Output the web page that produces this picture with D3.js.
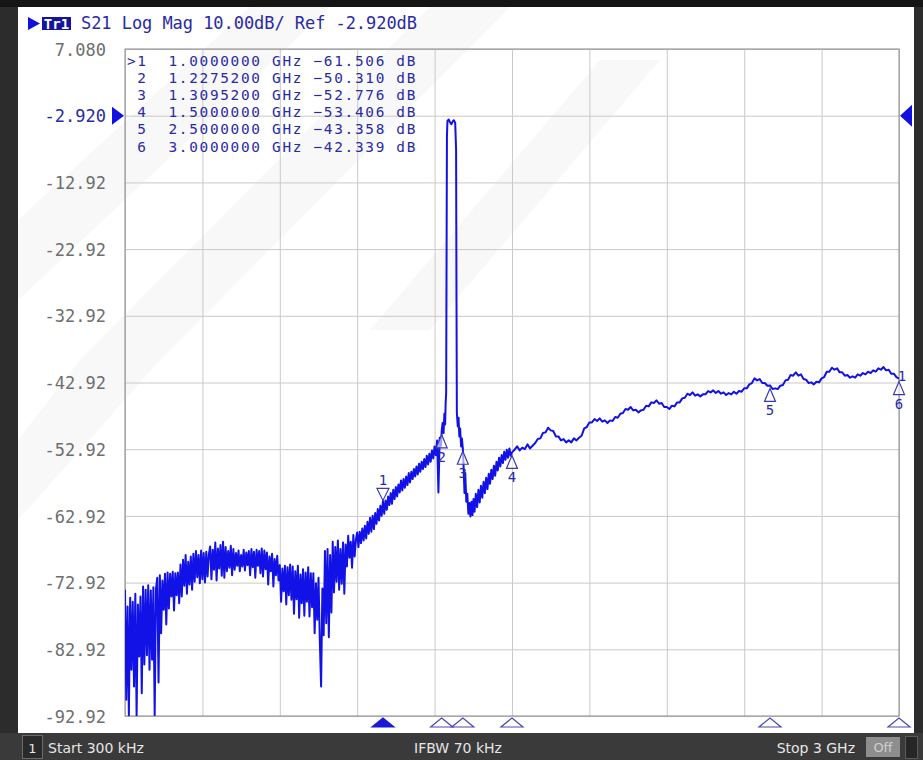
<!DOCTYPE html>
<html><head><meta charset="utf-8">
<script src="https://cdn.jsdelivr.net/npm/d3@7"></script>
<style>body{margin:0;background:#2f2f2f;} svg{display:block}</style>
</head><body>
<svg id="c" width="923" height="760"></svg>
<script>
// ---------- DATA ----------
const startGHz = 0.0003, stopGHz = 3.0;
const refLevelDB = -2.920;
const yTickLabels = ["7.080","-2.920","-12.92","-22.92","-32.92","-42.92","-52.92","-62.92","-72.92","-82.92","-92.92"];
const headerText = "S21 Log Mag 10.00dB/ Ref -2.920dB";
const statusStart = "Start 300 kHz", statusIFBW = "IFBW 70 kHz", statusStop = "Stop 3 GHz";

// noise floor segment: sweep points every 0.005 GHz from startGHz
const noiseStepGHz = 0.005;
const noiseFloorDB = [
-74.0,-90.5,-76.5,-92.9,-75.2,-86.0,
-75.8,-88.5,-74.6,-92.9,-76.2,-84.0,-75.0,-89.5,
-73.5,-85.2,-74.0,-83.8,-73.3,-86.0,-74.1,-84.5,-73.6,-92.8,-73.9,
-72.2,-87.9,-71.8,-80.5,-72.6,-77.0,-71.6,-79.2,
-71.4,-76.8,-71.6,-75.0,-71.3,-77.1,-71.5,-74.8,-71.4,-76.0,
-70.2,-75.0,-69.5,-73.4,-68.8,-74.6,-69.8,-73.2,-69.0,-74.0,
-68.6,-72.8,-68.2,-72.1,-68.8,-73.0,-68.1,-72.4,-68.5,-72.9,-68.3,-72.0,-68.7,
-67.5,-72.4,-68.0,-71.0,-66.9,-72.6,-67.8,-70.8,-67.3,-71.9,-66.8,-72.2,-67.6,-71.2,-68.2,-70.7,-67.4,-71.8,
-67.9,-71.0,-68.5,-70.4,-68.1,-71.2,-68.8,-70.5,-68.0,-71.1,-68.4,-70.3,-68.2,
-71.8,-67.9,-70.6,-68.3,-72.2,-68.0,-70.4,-68.2,-71.5,-67.8,-72.0,-68.1,-70.9,
-68.4,-73.2,-69.0,-71.2,-68.6,-73.5,-69.4,-71.8,-68.9,-72.6,
-70.3,-75.8,-70.8,-74.2,-70.4,-76.2,-70.6,-74.8,-70.2,-75.5,
-70.5,-77.6,-71.2,-75.4,-70.4,-78.2,-71.7,-76.0,-70.9,-77.9,-71.4,-75.8,-70.6,-78.0,-71.5,-76.6,
-71.5,-80.5,-73.0,-78.5,-72.2,-81.6,-88.5,-73.8,
-80.8,-68.2,-79.0,-67.9,-81.1,-68.8,-77.4,
-66.8,-74.4,-67.6,-72.8,-66.6,-74.0,-67.9,-73.1,-66.9,-74.6,-67.2,
-70.5,-65.9,-69.2,-66.8,-70.7,-65.8,-69.0,-66.5
];

// rising skirt: every 0.005 GHz from 0.900 GHz
const riseStartGHz = 0.900, riseStepGHz = 0.005;
const riseDB = [
-65.4,-67.6,-65.3,-67.0,-64.8,-66.6,-64.4,-66.3,-63.8,-65.6,
-63.2,-65.3,-62.9,-64.9,-62.5,-64.1,-61.9,-63.6,-61.4,-62.9,
-60.7,-62.6,-60.6,-62.0,-60.0,-61.3,-59.5,-61.1,-59.0,-60.4,
-58.6,-60.0,-58.2,-59.4,-57.6,-59.1,-57.4,-58.7,-57.0,-58.3,
-56.5,-57.9,-56.3,-57.4,-55.9,-57.0,-55.5,-56.7,-55.1,-56.3,
-54.8,-55.9,-54.4,-55.6,-53.9,-55.2,-53.6,-54.8,-53.1,-54.3,
-52.5,-53.8,-51.6,-59.4,-51.2,-52.4
];

// passband and notch region (explicit points)
const passbandGHz = [1.2275,1.231,1.235,1.238,1.241,1.243,1.245,1.2465,1.248,1.250,1.255,1.260,1.265,1.270,1.275,1.280,1.2835,1.285,1.2865,1.290,1.293,1.296,1.299,1.303,1.306,1.3095,1.312,1.316,1.319,1.323,1.327,1.331,1.335,1.339,1.343,1.347,1.351,1.355,1.360,1.365,1.370,1.375,1.380,1.385,1.390,1.395,1.400,1.405,1.410,1.415,1.420,1.425,1.430,1.435,1.440,1.445,1.450,1.455,1.460,1.465,1.470,1.475,1.480,1.485,1.490,1.495,1.500];
const passbandDB = [-50.3,-49.0,-50.5,-47.6,-49.2,-46.0,-44.5,-25,-6,-3.7,-3.5,-3.9,-4.2,-3.8,-3.6,-4.0,-8,-30,-47.5,-49.5,-48.2,-51.0,-49.8,-52.5,-51.3,-52.8,-55.0,-59.5,-56.5,-60.8,-59.6,-62.6,-61.0,
-63.0,-60.8,-62.8,-60.4,-62.3,-59.6,-61.6,-59.0,-60.9,-58.4,-60.2,-57.8,-59.5,-57.2,-58.9,-56.6,-58.1,-56.0,-57.4,-55.4,-56.9,-54.8,-56.1,-54.2,-55.5,-53.8,-55.0,-53.3,-54.5,-53.0,-54.2,-52.8,-53.9,-53.4];

// upper band: every 0.01 GHz from 1.51 GHz
const upperStartGHz = 1.51, upperStepGHz = 0.01;
const upperDB = [
-53.0,-52.5,-53.1,-52.7,-52.9,-52.2,-52.8,-52.4,-52.0,-51.4,
-51.3,-50.5,-50.4,-49.7,-50.1,-50.2,-51.0,-51.0,-51.6,-51.4,
-51.9,-51.6,-51.9,-51.3,-51.6,-51.2,-50.9,-49.8,-49.6,-48.9,
-48.9,-48.4,-48.7,-48.3,-48.8,-48.6,-49.0,-48.6,-48.7,-48.1,
-48.2,-47.6,-47.5,-46.9,-47.0,-46.6,-47.1,-47.0,-47.4,-47.1,
-47.0,-46.4,-46.5,-45.9,-46.0,-45.6,-46.1,-46.0,-46.6,-46.6,
-46.9,-46.4,-46.5,-45.9,-45.9,-45.3,-45.2,-44.6,-44.8,-44.4,
-44.9,-44.7,-45.0,-44.7,-44.7,-44.2,-44.4,-44.1,-44.5,-44.2,
-44.6,-44.4,-44.8,-44.5,-44.7,-44.3,-44.6,-44.2,-44.3,-43.8,
-43.8,-43.2,-43.0,-42.3,-42.6,-42.4,-43.0,-43.0,-43.4,-43.36,
-43.9,-43.8,-43.9,-43.4,-43.3,-42.6,-42.5,-41.8,-41.9,-41.4,
-41.9,-41.7,-42.4,-42.5,-43.0,-42.9,-43.2,-42.8,-42.9,-42.3,
-42.1,-41.3,-41.3,-40.7,-41.0,-40.8,-41.4,-41.4,-41.9,-41.8,
-42.2,-42.0,-42.2,-41.7,-41.9,-41.5,-41.7,-41.3,-41.5,-41.1,
-41.3,-40.8,-41.0,-40.6,-41.1,-41.0,-41.6,-41.6,-42.1,-42.34
];

// markers
const markerIds = [1,2,3,4,5,6];
const markerGHz = [1.0, 1.22752, 1.30952, 1.5, 2.5, 3.0];
const markerDB  = [-61.506, -50.310, -52.776, -53.406, -43.358, -42.339];
const activeMarker = 1;

// ---------- LAYOUT ----------
const L = 125, R = 899, T = 49, B = 716;
const svg = d3.select("#c");
const mono = "'DejaVu Sans Mono', monospace";
const sans = "'DejaVu Sans', sans-serif";
const blueText = "#2a2aa6";
const traceBlue = "#1212e6";

// frame/background
svg.append("rect").attr("x",0).attr("y",0).attr("width",923).attr("height",760).attr("fill","#2c2c2c");
svg.append("rect").attr("x",0).attr("y",0).attr("width",923).attr("height",7).attr("fill","#151515");
svg.append("rect").attr("x",18).attr("y",7).attr("width",896).attr("height",726).attr("fill","#ffffff");

// faint watermark
const wm = svg.append("g").attr("fill","#000").attr("opacity",0.022);
[[ [250,7],[330,7],[18,300],[18,220] ],
 [ [430,7],[510,7],[160,360],[80,360] ],
 [ [80,360],[160,360],[18,520],[18,440] ],
 [ [600,60],[660,60],[430,330],[370,330] ]].forEach(p=>wm.append("polygon").attr("points",p.map(d=>d.join(",")).join(" ")));

const x = d3.scaleLinear().domain([startGHz, stopGHz]).range([L, R]);
const y = d3.scaleLinear().domain([-92.92, 7.08]).range([B, T]);

const yTickValues = yTickLabels.map(s => +s);
const xGridValues = d3.range(11).map(k => startGHz + k*(stopGHz-startGHz)/10);

// grids
const gy = svg.append("g").attr("transform",`translate(${L},0)`)
  .call(d3.axisLeft(y).tickValues(yTickValues).tickSize(-(R-L)).tickPadding(19).tickFormat((d,i)=>yTickLabels[i]));
gy.select(".domain").remove();
gy.selectAll("line").attr("stroke","#c9c9c9");
gy.selectAll("text").attr("font-family",mono).attr("font-size",17).attr("fill",(d,i)=> yTickLabels[i]==="-2.920" ? blueText : "#6e6e6e").attr("dy","0.36em");

const gx = svg.append("g").attr("transform",`translate(0,${B})`)
  .call(d3.axisBottom(x).tickValues(xGridValues).tickSize(-(B-T)).tickFormat(""));
gx.select(".domain").remove();
gx.selectAll("line").attr("stroke","#c9c9c9");

svg.append("rect").attr("x",L).attr("y",T).attr("width",R-L).attr("height",B-T).attr("fill","none").attr("stroke","#8a8a8a");

// reference level triangles
const yRef = y(refLevelDB);
svg.append("path").attr("d",`M112,${yRef-9}L124,${yRef}L112,${yRef+9}Z`).attr("fill","#1010e0");
svg.append("path").attr("d",`M912,${yRef-11}L900,${yRef}L912,${yRef+11}Z`).attr("fill","#1010e0");

// header
svg.append("path").attr("d","M28,17L40,23.5L28,30Z").attr("fill","#1010e0");
svg.append("rect").attr("x",42).attr("y",17).attr("width",29).attr("height",13).attr("fill","#14149c");
svg.append("text").attr("x",56.5).attr("y",28.5).attr("text-anchor","middle").attr("font-family",mono).attr("font-size",14).attr("font-weight","bold").attr("fill","#fff").text("Tr1");
svg.append("text").attr("x",81).attr("y",29).attr("font-family",mono).attr("font-size",17).attr("fill",blueText)
  .attr("textLength",336).attr("lengthAdjust","spacing").text(headerText);

// marker table (one text per cell, rows kept clear of each other)
const cw = 10.36, cx0 = 127, row0 = 66, rowH = 17.1;
const fmtF = d3.format(".7f"), fmtV = d3.format(".3f");
const tbl = svg.append("g").attr("font-family",mono).attr("font-size",14.4).attr("letter-spacing","1.7px").attr("fill",blueText);
const cols = [
  {col:0, txt:(m,i)=> (m===activeMarker ? ">" : "\u00a0") + m},
  {col:4, txt:(m,i)=> fmtF(markerGHz[i])},
  {col:14, txt:()=> "GHz"},
  {col:18, txt:(m,i)=> fmtV(markerDB[i])},
  {col:26, txt:()=> "dB"}
];
markerIds.forEach((m,i)=>{
  cols.forEach(c=>{
    tbl.append("text").attr("x",cx0+c.col*cw).attr("y",row0+i*rowH).text(c.txt(m,i));
  });
});

// trace data
const trace = [];
noiseFloorDB.forEach((v,i)=>trace.push([startGHz + i*noiseStepGHz, v]));
riseDB.forEach((v,i)=>trace.push([riseStartGHz + i*riseStepGHz, v]));
passbandGHz.forEach((f,i)=>trace.push([f, passbandDB[i]]));
upperDB.forEach((v,i)=>trace.push([upperStartGHz + i*upperStepGHz, v]));

svg.append("clipPath").attr("id","pc").append("rect").attr("x",L).attr("y",T).attr("width",R-L).attr("height",B-T);
svg.append("path").datum(trace).attr("clip-path","url(#pc)")
  .attr("d", d3.line().x(d=>x(d[0])).y(d=>y(d[1])))
  .attr("fill","none").attr("stroke",traceBlue).attr("stroke-width",2).attr("stroke-linejoin","round");

// markers on trace
const mk = svg.append("g").attr("font-family",mono).attr("font-size",14).attr("fill",blueText);
markerIds.forEach((m,i)=>{
  const px = x(markerGHz[i]), py = y(markerDB[i]);
  if (m===activeMarker) {
    const tip = py-6;
    mk.append("path").attr("d",`M${px-6},${tip-12}L${px+6},${tip-12}L${px},${tip}Z`).attr("fill","#fff").attr("fill-opacity",0.6).attr("stroke","#3a3ab0").attr("stroke-width",1.2);
    mk.append("text").attr("x",px).attr("y",tip-15).attr("text-anchor","middle").text(String(m));
  } else {
    const tip = py+3;
    mk.append("path").attr("d",`M${px},${tip}L${px+5.5},${tip+13}L${px-5.5},${tip+13}Z`).attr("fill","#fff").attr("fill-opacity",0.6).attr("stroke","#3a3ab0").attr("stroke-width",1.2);
    mk.append("text").attr("x",px).attr("y",tip+27).attr("text-anchor","middle").text(String(m));
  }
});
// trace number at the end of the trace
mk.append("text").attr("x",x(stopGHz)+3).attr("y",y(markerDB[5])+2).attr("text-anchor","middle").text("1");

// bottom marker indicators
markerIds.forEach((m,i)=>{
  const px = x(markerGHz[i]);
  const a = m===activeMarker;
  svg.append("path").attr("d",`M${px},718L${px+11},727L${px-11},727Z`)
    .attr("fill", a ? "#1a1ad6" : "#fff").attr("stroke", a ? "#1a1ad6" : "#4a4ab4").attr("stroke-width",1.2);
});

// status bar
svg.append("rect").attr("x",0).attr("y",733).attr("width",923).attr("height",27).attr("fill","#3a3a3a");
svg.append("rect").attr("x",22.5).attr("y",735.5).attr("width",20).attr("height",23).attr("fill","#2a2a2a").attr("stroke","#6a6a6a");
svg.append("text").attr("x",32.5).attr("y",753).attr("text-anchor","middle").attr("font-family",sans).attr("font-size",13).attr("fill","#e6e6e6").text("1");
svg.append("text").attr("x",48).attr("y",753).attr("font-family",sans).attr("font-size",14).attr("fill","#e6e6e6").text(statusStart);
svg.append("text").attr("x",458).attr("y",753).attr("text-anchor","middle").attr("font-family",sans).attr("font-size",14).attr("fill","#e6e6e6").text(statusIFBW);
svg.append("text").attr("x",855).attr("y",753).attr("text-anchor","end").attr("font-family",sans).attr("font-size",14).attr("fill","#e6e6e6").text(statusStop);
svg.append("rect").attr("x",866).attr("y",737).attr("width",34).attr("height",20).attr("fill","#8e8e8e");
svg.append("text").attr("x",883).attr("y",752).attr("text-anchor","middle").attr("font-family",sans).attr("font-size",13).attr("fill","#cfcfcf").text("Off");
svg.append("rect").attr("x",905.5).attr("y",736.5).attr("width",12).attr("height",22).attr("fill","#262626").attr("stroke","#5a5a5a");
</script>
</body></html>
